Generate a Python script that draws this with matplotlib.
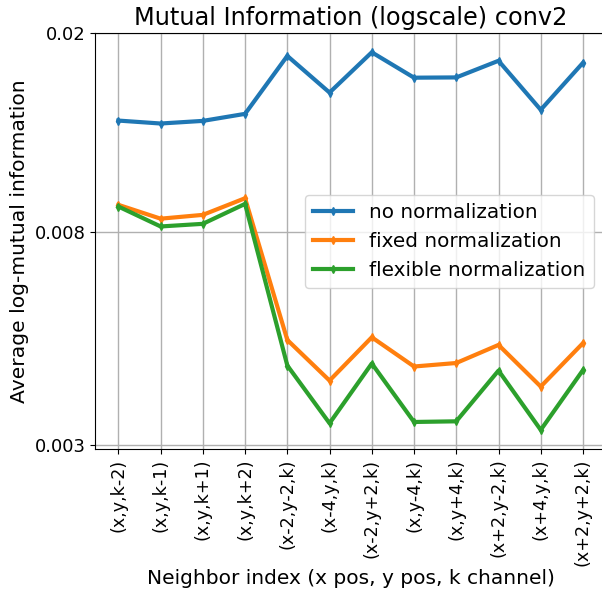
import matplotlib
matplotlib.use("Agg")
import matplotlib.pyplot as plt
import numpy as np

neighbors = ["(x,y,k-2)", "(x,y,k-1)", "(x,y,k+1)", "(x,y,k+2)",
             "(x-2,y-2,k)", "(x-4,y,k)", "(x-2,y+2,k)", "(x,y-4,k)",
             "(x,y+4,k)", "(x+2,y-2,k)", "(x+4,y,k)", "(x+2,y+2,k)"]

noNorm = [0.01336, 0.01318, 0.01334, 0.01378, 0.0180, 0.0152,
          0.0183, 0.01628, 0.01630, 0.0176, 0.01404, 0.01744]
fixedNorm = [0.00906, 0.0085, 0.00865, 0.00934, 0.00486, 0.00403,
             0.00492, 0.0043, 0.00437, 0.00475, 0.00392, 0.00479]
flexNorm = [0.00899, 0.0082, 0.0083, 0.0091, 0.00432, 0.00331,
            0.00436, 0.00333, 0.00334, 0.00422, 0.00321, 0.00423]

yTicks = [0.003, 0.008, 0.02]

fig = plt.figure(figsize=(6.02, 5.9), dpi=100)
ax = fig.add_axes([0.158, 0.239, 0.849, 0.705])

xVals = np.arange(len(neighbors))
ax.plot(xVals, noNorm, c="#1f77b4", lw=3, marker="d", ms=4, label="no normalization")
ax.plot(xVals, fixedNorm, c="#ff7f0e", lw=3, marker="d", ms=4, label="fixed normalization")
ax.plot(xVals, flexNorm, c="#2ca02c", lw=3, marker="d", ms=4, label="flexible normalization")

ax.set_yscale("log")
ax.set_ylim(0.00294, 0.02)
ax.set_xlim(-0.55, 11.55)
ax.yaxis.set_minor_locator(matplotlib.ticker.NullLocator())
ax.set_yticks(yTicks)
ax.set_yticklabels([str(t) for t in yTicks], fontsize=13)
ax.set_xticks(xVals)
ax.set_xticklabels(neighbors, rotation=90, fontsize=12.6)
ax.grid(True, color="#b0b0b0", lw=1)
ax.spines["right"].set_visible(False)

ax.set_title("Mutual Information (logscale) conv2", fontsize=17.3)
ax.set_xlabel("Neighbor index (x pos, y pos, k channel)", fontsize=14.5, labelpad=2)
ax.set_ylabel("Average log-mutual information", fontsize=14.6)
ax.legend(loc="center right", fontsize=14.4, bbox_to_anchor=(0.995, 0.5))

fig.savefig("out.png", dpi=100)
